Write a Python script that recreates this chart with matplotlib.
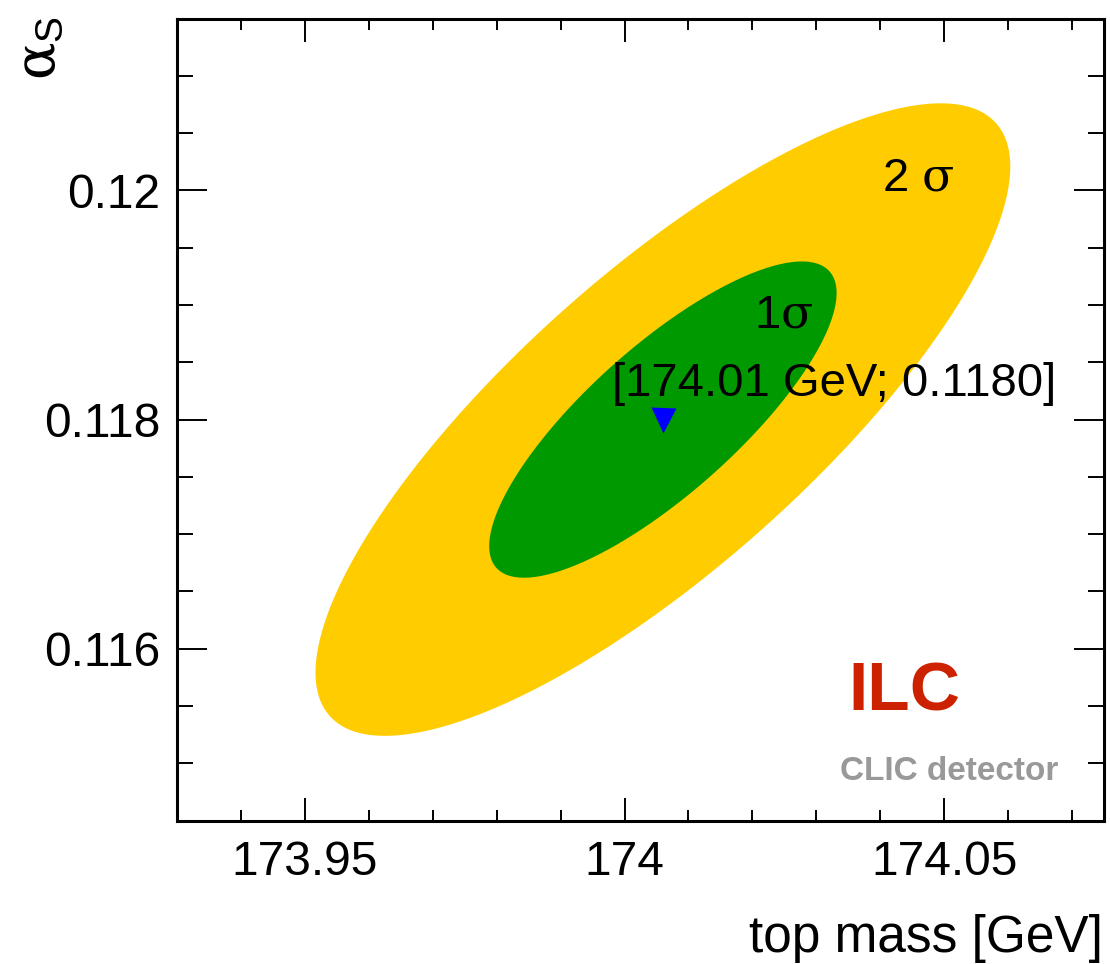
import matplotlib
matplotlib.use('Agg')
import matplotlib.pyplot as plt
import numpy as np
from matplotlib.ticker import MultipleLocator, FuncFormatter

plt.rcParams['font.family'] = ['Liberation Sans', 'DejaVu Sans']
plt.rcParams['mathtext.fontset'] = 'custom'
plt.rcParams['mathtext.rm'] = 'Liberation Sans'
plt.rcParams['mathtext.it'] = 'DejaVu Serif'

# fit result: best point and uncertainties
mt_best = 174.006
alphas_best = 0.1180
mt_sigma = 0.02717
alphas_sigma = 0.001380
correlation = 0.80

# contour levels (n sigma) and their fill colours, outermost first
levels = [2, 1]
level_colors = ['#ffcc00', '#009900']
level_labels = ['2 $\\sigma$', '1$\\sigma$']
label_pos = [(174.0402, 0.1200), (174.0203, 0.11880)]

x_range = (173.93, 174.075)
y_range = (0.1145, 0.1215)
x_major_ticks = [173.95, 174.0, 174.05]
y_major_ticks = [0.116, 0.118, 0.120]


def ellipse_points(n, npts=400):
    t = np.linspace(0, 2 * np.pi, npts)
    xs = mt_best + n * mt_sigma * np.cos(t)
    ys = alphas_best + n * alphas_sigma * (correlation * np.cos(t) + np.sqrt(1 - correlation ** 2) * np.sin(t))
    return xs, ys


fig = plt.figure(figsize=(11.1, 9.64), dpi=100)
ax = fig.add_axes([0.1595, 0.1487, 0.8351, 0.8321])

for n, col in zip(levels, level_colors):
    xs, ys = ellipse_points(n)
    ax.fill(xs, ys, color=col, lw=0, zorder=1)

ax.plot([mt_best], [alphas_best], marker='v', color='#0000ff', markersize=18, mec='none', ls='none', zorder=3)

for lab, (lx, ly) in zip(level_labels, label_pos):
    ax.text(lx, ly, lab, fontsize=34, ha='left', va='baseline', zorder=4)

ax.text(173.9981, 0.118208, '[{:.2f} GeV; {:.4f}]'.format(mt_best, alphas_best),
        fontsize=34, ha='left', va='baseline', zorder=4)

ax.text(0.724, 0.1368, 'ILC', transform=ax.transAxes, fontsize=50, fontweight='bold',
        color='#cc2200', ha='left', va='baseline')
ax.text(0.715, 0.0507, 'CLIC detector', transform=ax.transAxes, fontsize=24, fontweight='bold',
        color='#999999', ha='left', va='baseline')

ax.set_xlim(*x_range)
ax.set_ylim(*y_range)
ax.set_xticks(x_major_ticks)
ax.set_yticks(y_major_ticks)
ax.xaxis.set_minor_locator(MultipleLocator(0.01))
ax.yaxis.set_minor_locator(MultipleLocator(0.0005))
ax.xaxis.set_major_formatter(FuncFormatter(lambda v, p: '{:g}'.format(round(v, 3))))
ax.yaxis.set_major_formatter(FuncFormatter(lambda v, p: '{:g}'.format(round(v, 4))))

for side in ax.spines.values():
    side.set_linewidth(2.2)
ax.tick_params(which='both', direction='in', top=True, right=True, width=1.4, labelsize=34.5)
ax.tick_params(axis='x', which='major', length=16.5, pad=14)
ax.tick_params(axis='x', which='minor', length=8)
ax.tick_params(axis='y', which='major', length=21.5, pad=12)
ax.tick_params(axis='y', which='minor', length=11.5)

fig.text(1103 / 1110, 1 - 952 / 964, 'top mass [GeV]', fontsize=37, ha='right', va='baseline')
fig.text(15 / 1110, 1 - 16 / 964, '$\\alpha_{\\rm S}$', fontsize=40, rotation=90, ha='left', va='top')

fig.savefig('out.png', dpi=100)
